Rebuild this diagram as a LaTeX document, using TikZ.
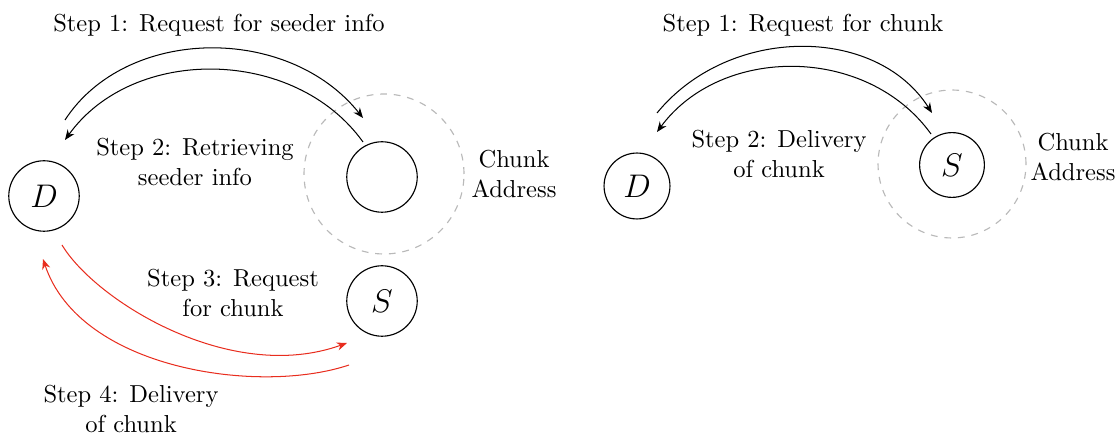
\documentclass[tikz,border=0pt]{standalone}
\usetikzlibrary{arrows.meta}
\definecolor{arrowred}{RGB}{232,45,30}
\definecolor{zonegray}{RGB}{185,185,185}
\begin{document}
\begin{tikzpicture}[x=0.44pt,y=-0.44pt,
  peer/.style={circle, draw, line width=0.5pt, minimum size=#1, inner sep=0pt, font=\fontsize{15}{18}\selectfont},
  peer/.default=31pt,
  zone/.style={circle, draw=zonegray, dashed, line width=0.5pt, minimum size=#1, inner sep=0pt},
  msg/.style={-{Stealth[length=4.5pt,width=3.6pt]}, line width=0.45pt},
  redmsg/.style={msg, draw=arrowred, -{Stealth[length=4.5pt,width=3.6pt,color=arrowred]}},
  lbl/.style={align=center, inner sep=0pt, font=\fontsize{10.8}{12.9}\selectfont}]
\useasboundingbox (0,0) rectangle (1120,436);

% ---- left: lookup, then fetch from the seeder ----
\node[zone=70.4pt] (Z1) at (384,174) {};
\node[peer] (D1) at (44,196) {$D$};
\node[peer] (A1) at (382,177) {};
\node[peer] (S1) at (382,301) {$S$};
\node[lbl] (CA1) at (514,174) {Chunk\\Address};

\coordinate (p1s) at (65,120);  \coordinate (p1e) at (363,118);
\coordinate (p2s) at (363,142); \coordinate (p2e) at (65,140);
\coordinate (p3s) at (62,245);  \coordinate (p3e) at (347,343);
\coordinate (p4s) at (349,365); \coordinate (p4e) at (43,259);

\draw[msg] (p1s) .. controls (126,26) and (288,24) .. (p1e);
\draw[msg] (p2s) .. controls (295,47) and (133,45) .. (p2e);
\draw[redmsg] (p3s) .. controls (95,300) and (230,385) .. (p3e);
\draw[redmsg] (p4s) .. controls (260,395) and (80,370) .. (p4e);

\node[lbl] (t1) at (219,25) {Step 1: Request for seeder info};
\node[lbl] (t2) at (195,162) {Step 2: Retrieving\\seeder info};
\node[lbl] (t3) at (233,293) {Step 3: Request\\for chunk};
\node[lbl] (t4) at (131,409) {Step 4: Delivery\\of chunk};

% ---- right: direct fetch from the address holder ----
\node[zone=65.1pt] (Z2) at (952,164) {};
\node[peer=29pt] (D2) at (637,186) {$D$};
\node[peer=28.5pt] (S2) at (952,165) {$S$};
\node[lbl] (CA2) at (1073,157) {Chunk\\Address};

\coordinate (q1s) at (657,113); \coordinate (q1e) at (932,113);
\coordinate (q2s) at (931,134); \coordinate (q2e) at (657,132);

\draw[msg] (q1s) .. controls (729,25) and (876,25) .. (q1e);
\draw[msg] (q2s) .. controls (867,45) and (721,45) .. (q2e);

\node[lbl] (u1) at (803,25) {Step 1: Request for chunk};
\node[lbl] (u2) at (779,154) {Step 2: Delivery\\of chunk};
\end{tikzpicture}
\end{document}
